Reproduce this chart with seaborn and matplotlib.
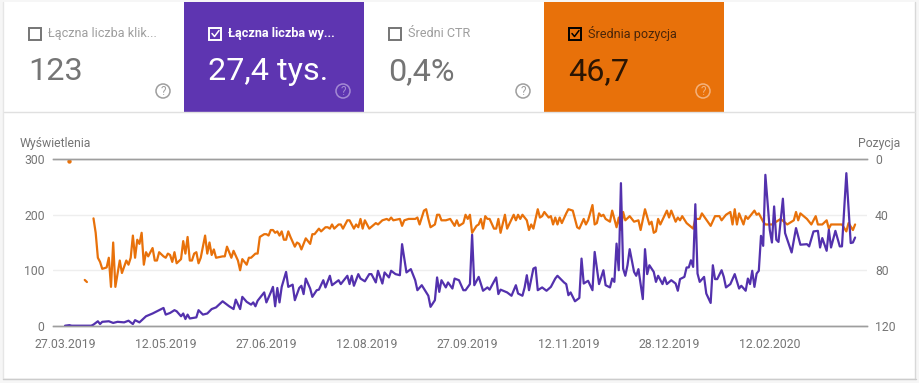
import pandas as pd
import seaborn as sns
import matplotlib.pyplot as plt
from matplotlib.patches import Rectangle, Circle
from matplotlib.lines import Line2D

# Wyświetlenia (days since 27.03.2019, value)
imp_days = [0,2,3,12,13,15,16,17,20,22,24,27,29,31,32,34,37,40,42,45,46,48,50,51,53,54,55,56,57,60,61,63,65,67,69,72,75,77,78,80,81,83,85,86,87,88,91,92,94,95,96,97,98,99,101,102,104,105,107,108,109,110,
            112,113,115,116,118,119,121,122,125,126,129,130,131,132,134,135,137,139,140,142,143,145,146,148,149,151,153,154,156,158,160,161,163,166,167,169,170,171,172,174,175,177,178,180,182,183,185,186,187,189,191,193,194,197,198,199,202,204,206,207,209,210,211,212,214,215,216,218,220,222,224,225,228,229,230,231,233,235,236,237,239,241,242,244,
            246,247,249,250,251,252,253,254,255,256,257,258,260,261,262,264,265,266,267,269,270,271,273,274,275,277,279,280,281,283,284,285,286,287,288,289,290,292,293,295,296,297,298,300,301,302,304,306,308,309,311,312,313,314,315,316,317,318,319,320,322,323,324,325,326,328,329,332,334,336,339,340,342,344,345,346,348,349,350,352,354,355,357,359,360,361]
imp_vals = [0,1,0,0,2,8,3,7,8,5,7,6,9,3,10,6,17,22,26,32,20,23,28,26,17,22,12,20,13,15,28,20,22,30,33,44,35,30,47,30,52,43,38,42,35,45,60,42,60,70,35,68,42,70,97,70,74,46,68,72,57,85,
            67,52,64,65,82,69,90,73,82,75,90,75,90,72,93,85,80,93,93,78,99,76,96,87,99,93,91,147,96,102,82,64,73,54,34,46,87,61,82,69,78,67,85,82,64,64,75,164,73,88,63,69,65,87,57,65,60,54,73,58,54,69,91,64,103,105,64,69,63,70,85,90,78,75,55,60,44,50,121,76,81,64,133,75,
            100,73,69,85,79,148,100,257,103,90,109,138,97,90,102,48,138,93,109,97,79,90,75,87,75,82,76,63,84,88,105,105,118,106,219,94,79,88,58,41,109,84,84,100,88,69,75,93,67,72,63,85,75,99,70,94,99,162,144,272,173,150,215,155,151,229,167,132,176,146,147,143,170,171,141,158,135,173,141,171,143,143,275,149,150,159]

# Pozycja: a lone point, a short piece, then the main run
pos_point_days = [2]
pos_point_vals = [1.4]
pos_short_days = [9,10]
pos_short_vals = [87,88.5]
pos_days = [13,14,15,16,17,19,20,21,22,23,25,26,28,29,30,31,32,33,34,35,36,37,38,40,41,42,43,45,46,47,48,49,50,51,53,54,55,56,57,58,59,60,61,62,64,65,66,67,68,69,72,73,74,75,76,77,79,80,81,83,84,85,87,88,89,91,92,93,94,95,96,97,98,99,100,101,102,103,105,106,107,108,109,
            110,112,113,114,116,117,119,120,121,122,123,125,126,127,129,130,132,133,134,135,136,137,139,142,143,145,147,148,149,150,153,154,155,157,158,160,161,162,164,165,166,167,169,170,171,172,174,176,178,179,180,182,183,184,185,186,188,189,190,191,192,193,194,196,197,198,199,201,202,205,206,207,208,209,211,212,213,214,216,217,218,219,221,222,223,224,225,226,227,229,230,232,234,235,237,238,239,241,242,243,244,245,246,
            247,249,250,252,253,254,255,256,258,260,262,263,265,267,268,269,270,271,272,275,276,277,279,280,281,282,284,287,288,290,291,295,297,299,300,302,304,305,306,307,308,310,311,312,315,316,317,319,320,323,326,327,330,333,334,335,336,339,341,343,344,346,348,349,350,352,355,357,358,360,361]
pos_vals = [42.6,53,71,74,79,78,71,92,60,92,73,82,73,76,71,55,71,58,61,53,76,67,70,64,73,73,67,70,71,68,69,74,67,75,72,59,68,56,73,73,68,67,75,71,55,68,60,69,65,71,70,70,63,67,71,66,73,80,72,76,71,71,68,68,56,54,54,55,51,51,53,52,55,52,58,58,52,56,63,60,61,65,61,
            57,61,54,54,50,52,49,49,50,47,50,47,47,50,44,44,50,47,49,43,50,44,50,46,47,44,43,44,42,44,43,48,44,43,43,43,42,47,37,36,43,49,47,40,40,44,44,43,48,44,48,46,40,43,40,53,48,47,43,50,41,43,43,50,50,43,53,40,50,40,44,40,43,40,44,51,47,50,36,42,41,38,42,41,47,42,47,42,46,39,36,37,49,50,43,47,44,33,47,46,39,41,40,
            43,45,37,49,42,51,38,44,41,45,44,51,36,47,45,53,52,43,47,37,42,37,45,42,44,41,46,50,43,43,39,48,41,41,44,40,38,47,36,47,39,47,41,43,37,40,39,45,47,47,44,43,47,44,38,44,39,43,47,41,47,47,44,50,47,47,47,52,46,51,47]

start_date = pd.Timestamp("2019-03-27")
tick_dates = ["2019-03-27","2019-05-12","2019-06-27","2019-08-12","2019-09-27","2019-11-12","2019-12-28","2020-02-12"]
tick_labels = ["27.03.2019","12.05.2019","27.06.2019","12.08.2019","27.09.2019","12.11.2019","28.12.2019","12.02.2020"]

card_titles = ["Łączna liczba klik...","Łączna liczba wy...","Średni CTR","Średnia pozycja"]
card_values = ["123","27,4 tys.","0,4%","46,7"]
card_fills = ["white","#5e35b1","white","#e8710a"]
card_text = ["#9e9e9e","white","#9e9e9e","#4a2508"]
card_big = ["#757575","white","#757575","#2b1503"]
card_help = ["#9e9e9e","#a48ad4","#9e9e9e","#f4b27c"]
card_left = [4,184,364,544]

PURPLE = "#5331ad"
ORANGE = "#e8710a"
GREY = "#757575"

def to_dates(days):
    return start_date + pd.to_timedelta(days, unit="D")

sns.set_theme(style="white")
plt.rcParams['font.family'] = ['Roboto', 'DejaVu Sans']

fig = plt.figure(figsize=(9.2, 3.83), dpi=100, facecolor="#f6f6f6")

# page layer in pixels, for the cards
bg = fig.add_axes([0, 0, 1, 1])
bg.set_xlim(0, 920)
bg.set_ylim(383, 0)
bg.axis("off")
bg.add_patch(Rectangle((4, 2), 911, 376, fc="white", ec="none"))
bg.add_line(Line2D([3.5, 3.5], [2, 379], color="#e6e6e6", lw=1))
bg.add_line(Line2D([915.5, 915.5], [2, 379], color="#d8d8d8", lw=1))
bg.add_line(Line2D([3.5, 916], [378.5, 378.5], color="#cccccc", lw=1))
bg.add_line(Line2D([4, 915], [111.5, 111.5], color="#e0e0e0", lw=1))

for i in range(4):
    x = card_left[i]
    if card_fills[i] != "white":
        bg.add_patch(Rectangle((x, 2), 180, 110, fc=card_fills[i], ec="none"))
    tx = x + 25
    box_edge = "#757575" if card_fills[i] == "white" else ("white" if i == 1 else "black")
    box_fill = card_fills[i]
    bg.add_patch(Rectangle((tx + 0.5, 27.5), 12, 12, fc=box_fill, ec=box_edge, lw=1.4))
    if card_fills[i] != "white":
        bg.add_line(Line2D([tx+3, tx+5.5, tx+10], [33.5, 36.5, 30.5],
                           color=box_edge, lw=1.1))
    bg.text(tx + 19, 33.5, card_titles[i], color=card_text[i], fontsize=9.1, va="center",
            fontweight="bold" if i == 1 else "normal")
    bg.text(tx - 0.5, 80.5, card_values[i], color=card_big[i], fontsize=23.3, va="baseline")
    hx = x + 159
    bg.add_patch(Circle((hx, 91), 7, fc="none", ec=card_help[i], lw=1.1))
    bg.text(hx, 91.5, "?", color=card_help[i], fontsize=8.5, ha="center", va="center")

bg.text(20, 143, "Wyświetlenia", color=GREY, fontsize=8.8, va="center")
bg.text(900, 143, "Pozycja", color=GREY, fontsize=8.8, va="center", ha="right")

# chart
ax = fig.add_axes([53/920, 1 - 325.7/383, (866.7-53)/920, (325.7-159.3)/383])
ax2 = ax.twinx()
ax.set_zorder(ax2.get_zorder() + 1)
ax.patch.set_visible(False)
ax2.patch.set_visible(False)

sns.lineplot(x=to_dates(pos_days), y=pos_vals, color=ORANGE, lw=1.6, ax=ax2, estimator=None, legend=False)
sns.lineplot(x=to_dates(pos_short_days), y=pos_short_vals, color=ORANGE, lw=1.6, ax=ax2, estimator=None, legend=False)
sns.scatterplot(x=to_dates(pos_point_days), y=pos_point_vals, color=ORANGE, s=10, linewidth=0, ax=ax2, legend=False, clip_on=False)
sns.lineplot(x=to_dates(imp_days), y=imp_vals, color=PURPLE, lw=1.6, ax=ax, estimator=None, legend=False)

ax.set_xlim(start_date - pd.Timedelta(days=5.5), start_date + pd.Timedelta(days=366.3))
ax.set_ylim(0, 300)
ax2.set_ylim(120, 0)
ax.set_yticks([0, 100, 200, 300])
ax2.set_yticks([0, 40, 80, 120])
ax.set_xticks(pd.to_datetime(tick_dates))
ax.set_xticklabels(tick_labels)
ax.set_xlabel("")
ax.set_ylabel("")
ax2.set_ylabel("")
# grid sits on the lower axes so both lines stay above it
ax.grid(False)
ax2.set_axisbelow(True)
ax2.grid(axis="y", color="#eeeeee", lw=1)
ax.tick_params(axis="x", length=0, pad=9, labelsize=8.8, labelcolor=GREY)
ax.tick_params(axis="y", length=0, pad=6, labelsize=8.8, labelcolor=GREY)
ax2.tick_params(axis="y", length=0, pad=6, labelsize=8.8, labelcolor=GREY)
for a in (ax, ax2):
    for side in ("left", "right"):
        a.spines[side].set_visible(False)
    for side in ("top", "bottom"):
        a.spines[side].set_color("#9e9e9e")
        a.spines[side].set_linewidth(1)

fig.savefig("out.png", dpi=100, facecolor=fig.get_facecolor())
